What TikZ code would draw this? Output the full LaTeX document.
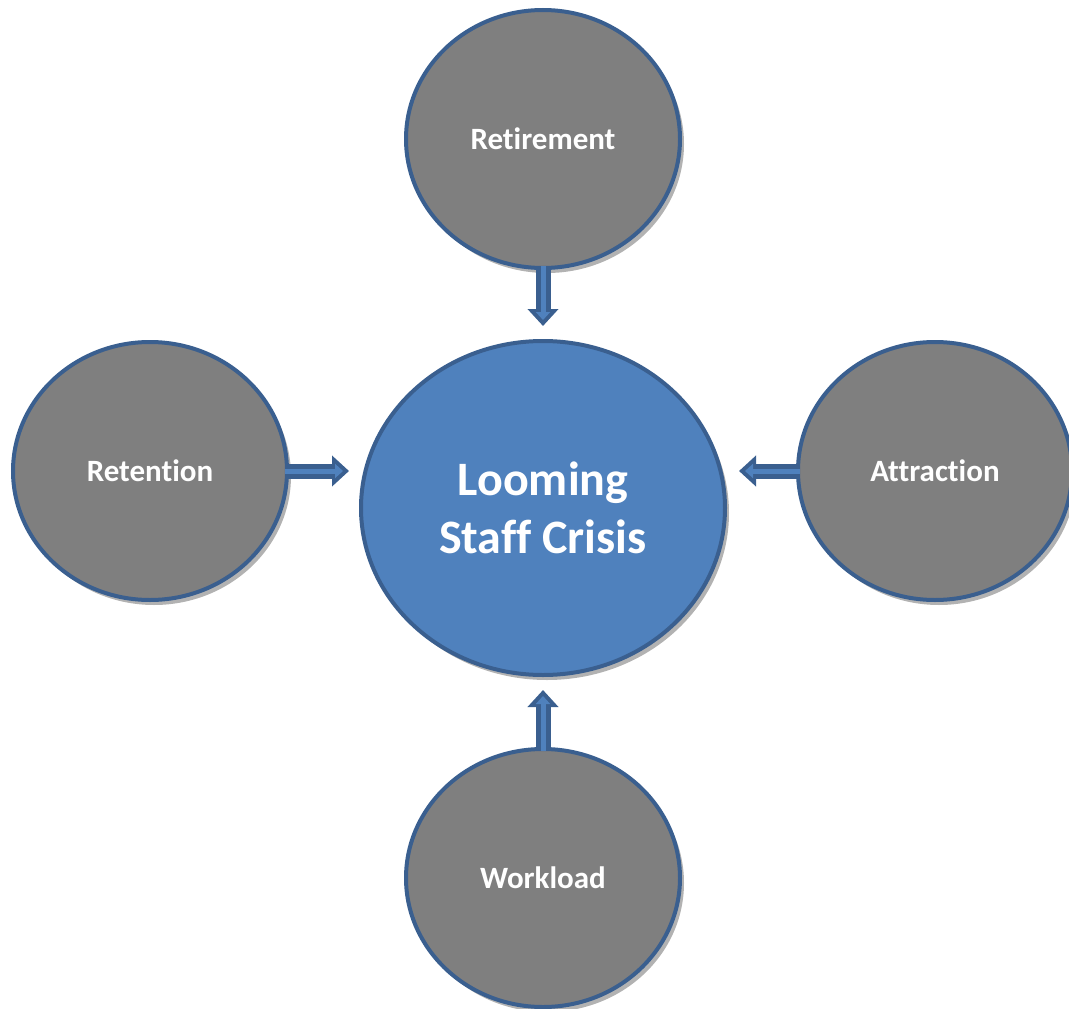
\documentclass[tikz,border=0pt]{standalone}
\usepackage{fontspec}
\setmainfont{Carlito}[Ligatures=NoCommon]
\usetikzlibrary{shapes.geometric,arrows.meta,shadows}

\definecolor{rimblue}{HTML}{3A5F8F}
\definecolor{crisisblue}{HTML}{4F81BD}
\definecolor{causegray}{HTML}{7F7F7F}

\tikzset{
  bubble/.style={ellipse, draw=rimblue, line width=4pt, text=white,
    drop shadow={shadow xshift=4pt, shadow yshift=-5pt, opacity=0.3, fill=black}},
  cause/.style={bubble, fill=causegray, minimum width=274pt, minimum height=258pt,
    font=\fontsize{31}{36}\selectfont\bfseries},
  crisis/.style={bubble, fill=crisisblue, minimum width=364pt, minimum height=334pt,
    align=center, font=\fontsize{48}{58}\selectfont\bfseries},
  feed/.style={line width=5pt, draw=crisisblue, shorten <=-4pt, shorten >=#1+6pt,
    -{Triangle[width=14pt,length=8pt]},
    preaction={draw=rimblue, line width=15pt, shorten <=-4pt, shorten >=#1,
      -{Triangle[width=30pt,length=17pt]}}}
}

\begin{document}
\begin{tikzpicture}[x=1pt,y=-1pt]
\useasboundingbox (0,0) rectangle (1069,1009);
%\draw[help lines,step=100] (0,0) grid (1069,1009);
\node[crisis] (core) at (543,508) {Looming\\Staff Crisis};
\node[cause] (retire) at (543,139) {Retirement};
\node[cause] (retain) at (150,471) {Retention};
\node[cause] (attract) at (935,471) {Attraction};
\node[cause] (work) at (543,878) {Workload};

\draw[feed=13pt] (retire.south) -- (retire.south |- core.north);
\draw[feed=10pt] (retain.east) -- (retain.east -| core.west);
\draw[feed=12pt] (attract.west) -- (attract.west -| core.east);
\draw[feed=13pt] (work.north) -- (work.north |- core.south);
\end{tikzpicture}
\end{document}
